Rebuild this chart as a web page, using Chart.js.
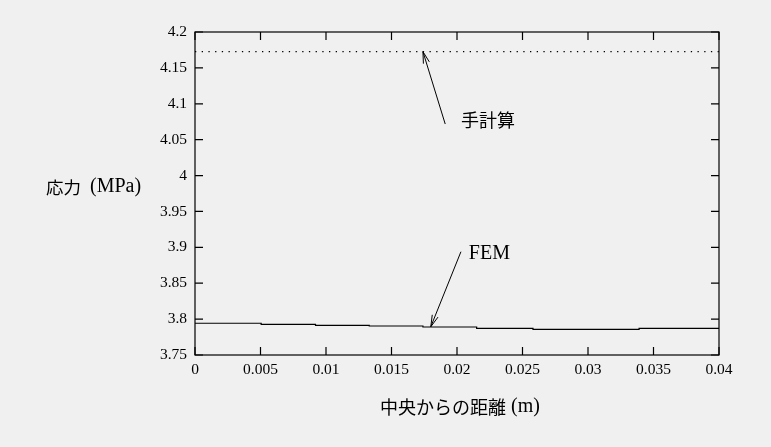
<!DOCTYPE html>
<html>
<head>
<meta charset="utf-8">
<script src="https://cdn.jsdelivr.net/npm/chart.js@4/dist/chart.umd.min.js"></script>
<style>
  html, body { margin: 0; padding: 0; background: #f0f0f0; }
  #wrap { width: 771px; height: 447px; }
</style>
</head>
<body>
<div id="wrap"><canvas id="c" width="771" height="447"></canvas></div>
<script>
// ---- data ----
const femX = [0, 0.00505, 0.0092, 0.0133, 0.0174, 0.0215, 0.0258, 0.0339, 0.04];
const femY = [3.7942, 3.7928, 3.7914, 3.7904, 3.7890, 3.7872, 3.7858, 3.7872, 3.7872];
const handX = [0, 0.04];
const handY = [4.1726, 4.1726];
const seriesNames = ['FEM', '手計算'];
const xTitleParts = ['中央からの距離', ' (m)'];
const yTitleParts = ['応力', '(MPa)'];
const xRange = [0, 0.04, 0.005];
const yRange = [3.75, 4.2, 0.05];
// annotation anchors in data units: [textX, textY, tailX, tailY, headX, headY]
const noteFEM = [0.0209, 3.8907, 0.0203, 3.8939, 0.0180, 3.7894];
const noteHand = [0.0203, 4.0774, 0.0191, 4.0718, 0.0174, 4.1726];

const LATIN = "'Liberation Serif', serif";
const CJK = "'Noto Sans CJK JP', sans-serif";

function pts(xs, ys) { return xs.map((x, i) => ({ x: x, y: ys[i] })); }

// draw a sequence of [text, font, gapAfter] segments starting at x, centred on y
function drawSegments(ctx, segs, x, y, align) {
  let total = 0;
  segs.forEach(s => { ctx.font = s[1]; total += ctx.measureText(s[0]).width + (s[2] || 0); });
  let cx = align === 'center' ? x - total / 2 : x;
  ctx.textAlign = 'left';
  ctx.textBaseline = 'middle';
  segs.forEach(s => {
    ctx.font = s[1];
    ctx.fillText(s[0], cx, y);
    cx += ctx.measureText(s[0]).width + (s[2] || 0);
  });
}

const decor = {
  id: 'decor',
  afterDraw(chart) {
    const ctx = chart.ctx, a = chart.chartArea;
    const xs = chart.scales.x, ys = chart.scales.y;
    ctx.save();
    ctx.strokeStyle = '#000';
    ctx.lineWidth = 1.2;
    ctx.strokeRect(a.left, a.top, a.right - a.left, a.bottom - a.top);
    const tl = 8;
    ctx.beginPath();
    ys.ticks.forEach(t => {
      const y = ys.getPixelForValue(t.value);
      ctx.moveTo(a.left, y); ctx.lineTo(a.left + tl, y);
      ctx.moveTo(a.right, y); ctx.lineTo(a.right - tl, y);
    });
    xs.ticks.forEach(t => {
      const x = xs.getPixelForValue(t.value);
      ctx.moveTo(x, a.bottom); ctx.lineTo(x, a.bottom - tl);
      ctx.moveTo(x, a.top); ctx.lineTo(x, a.top + tl);
    });
    ctx.stroke();

    // arrows + labels
    function note(n, text, font) {
      const tx = xs.getPixelForValue(n[0]), ty = ys.getPixelForValue(n[1]);
      const x0 = xs.getPixelForValue(n[2]), y0 = ys.getPixelForValue(n[3]);
      const x1 = xs.getPixelForValue(n[4]), y1 = ys.getPixelForValue(n[5]);
      ctx.lineWidth = 1;
      ctx.beginPath();
      ctx.moveTo(x0, y0); ctx.lineTo(x1, y1);
      const ang = Math.atan2(y0 - y1, x0 - x1);
      const L = 12, h = 0.26;
      ctx.moveTo(x1 + L * Math.cos(ang + h), y1 + L * Math.sin(ang + h));
      ctx.lineTo(x1, y1);
      ctx.lineTo(x1 + L * Math.cos(ang - h), y1 + L * Math.sin(ang - h));
      ctx.stroke();
      ctx.fillStyle = '#000';
      drawSegments(ctx, [[text, font, 0]], tx, ty, 'left');
    }
    note(noteFEM, seriesNames[0], '20px ' + LATIN);
    note(noteHand, seriesNames[1], '18px ' + CJK);

    // axis titles
    ctx.fillStyle = '#000';
    drawSegments(ctx, [[yTitleParts[0], '17.5px ' + CJK, 9], [yTitleParts[1], '20px ' + LATIN, 0]], 46, 187, 'left');
    drawSegments(ctx, [[xTitleParts[0], '18px ' + CJK, 0], [xTitleParts[1], '20px ' + LATIN, 0]], 460, 407, 'center');
    ctx.restore();
  }
};

const bg = {
  id: 'bg',
  beforeDraw(chart) {
    const ctx = chart.ctx;
    ctx.save();
    ctx.fillStyle = '#f0f0f0';
    ctx.fillRect(0, 0, chart.width, chart.height);
    ctx.restore();
  }
};

new Chart(document.getElementById('c'), {
  type: 'scatter',
  data: {
    datasets: [
      {
        label: seriesNames[0],
        data: pts(femX, femY),
        showLine: true,
        stepped: 'before',
        borderColor: '#000',
        borderWidth: 1.2,
        pointRadius: 0,
        fill: false
      },
      {
        label: seriesNames[1],
        data: pts(handX, handY),
        showLine: true,
        borderColor: '#000',
        borderWidth: 1.3,
        borderDash: [1.3, 5.4],
        pointRadius: 0,
        fill: false
      }
    ]
  },
  options: {
    responsive: false,
    animation: false,
    devicePixelRatio: 1,
    layout: { padding: { left: 0, right: 52, top: 32, bottom: 0 } },
    plugins: { legend: { display: false }, tooltip: { enabled: false } },
    scales: {
      x: {
        type: 'linear',
        min: xRange[0], max: xRange[1],
        afterFit(s) { s.height = 92; },
        grid: { display: false, drawTicks: false },
        border: { display: false },
        ticks: {
          stepSize: xRange[2],
          autoSkip: false,
          maxRotation: 0,
          padding: 6,
          color: '#000',
          font: { family: LATIN, size: 15.5 },
          callback: v => String(Number(v.toFixed(4)))
        }
      },
      y: {
        type: 'linear',
        min: yRange[0], max: yRange[1],
        afterFit(s) { s.width = 195; },
        grid: { display: false, drawTicks: false },
        border: { display: false },
        ticks: {
          stepSize: yRange[2],
          autoSkip: false,
          padding: 8,
          color: '#000',
          font: { family: LATIN, size: 15.5 },
          callback: v => String(Number(v.toFixed(3)))
        }
      }
    }
  },
  plugins: [bg, decor]
});
</script>
</body>
</html>
